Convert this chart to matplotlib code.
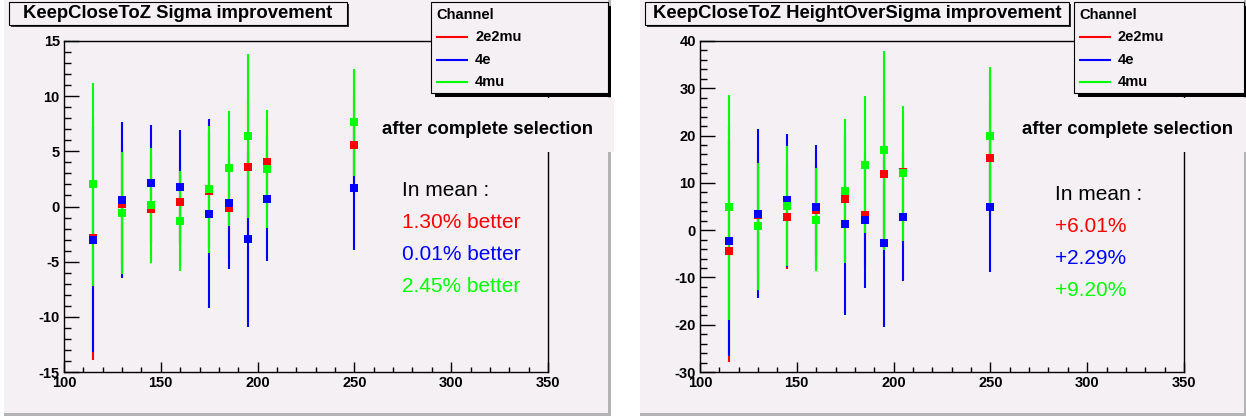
import numpy as np
import matplotlib
matplotlib.use("Agg")
import matplotlib.pyplot as plt
from matplotlib.patches import Rectangle
from matplotlib.lines import Line2D

plt.rcParams['font.family'] = ['Liberation Sans', 'DejaVu Sans']
plt.rcParams['axes.unicode_minus'] = False

# ---------------- data ----------------
masses = [115, 130, 145, 160, 175, 185, 195, 205, 250]
channels = ['2e2mu', '4e', '4mu']
colors = ['#ff0000', '#0000ff', '#00ff00']

sigma_2e2mu = [-2.9, 0.2, -0.2, 0.45, 1.45, -0.1, 3.6, 4.0, 5.6]
sigma_2e2mu_err = [11.0, 5.4, 4.6, 3.8, 5.25, 4.6, 6.0, 4.0, 4.5]
sigma_4e = [-3.0, 0.6, 2.1, 1.8, -0.65, 0.3, -2.95, 0.7, 1.67]
sigma_4e_err = [10.2, 7.05, 5.3, 5.1, 8.55, 5.95, 7.95, 5.65, 5.63]
sigma_4mu = [2.0, -0.6, 0.1, -1.3, 1.55, 3.45, 6.4, 3.4, 7.65]
sigma_4mu_err = [9.2, 5.5, 5.2, 4.55, 5.75, 5.25, 7.45, 5.35, 4.85]

hos_2e2mu = [-4.4, 3.1, 2.7, 4.3, 6.6, 3.3, 11.9, 12.35, 15.3]
hos_2e2mu_err = [23.4, 13.4, 10.9, 9.6, 13.15, 11.2, 16.0, 10.95, 12.3]
hos_4e = [-2.3, 3.5, 6.3, 4.95, 1.33, 2.25, -2.65, 2.85, 4.95]
hos_4e_err = [24.3, 17.8, 14.1, 13.05, 19.3, 14.45, 17.85, 13.65, 13.85]
hos_4mu = [4.8, 0.8, 5.1, 2.25, 8.3, 13.8, 16.9, 12.0, 19.9]
hos_4mu_err = [23.7, 13.5, 12.7, 10.9, 15.2, 14.5, 21.0, 14.2, 14.5]

sigma_mean = ['1.30% better', '0.01% better', '2.45% better']
hos_mean = ['+6.01%', '+2.29%', '+9.20%']

# ---------------- layout (pixels) ----------------
W, H = 1246, 417
BG = '#f4f0f4'
fig = plt.figure(figsize=(W / 100, H / 100), dpi=100)
fig.patch.set_facecolor('white')


def rect(x0, y0, x1, y1, **kw):
    # pixel box (top-left origin) -> figure rectangle
    r = Rectangle((x0 / W, 1 - y1 / H), (x1 - x0) / W, (y1 - y0) / H,
                  transform=fig.transFigure, **kw)
    fig.patches.append(r)
    return r


def text(x, y, s, **kw):
    fig.text(x / W, 1 - y / H, s, **kw)


def panel(off, title, title_x1, ylim, ymajor, yminor, series, mean_txt,
          mean_x, mean_y0, leg_x0, sel_x):
    # canvas
    rect(off + 4, 0, off + 611, 416, facecolor='#b4b4b4', edgecolor='none', zorder=-10)
    rect(off + 4, 0, off + 608, 413, facecolor=BG, edgecolor='none', zorder=-9)

    ax = fig.add_axes([(off + 64) / W, (H - 372) / H, 484 / W, 331 / H])
    ax.set_facecolor('none')
    for (y, e), c in zip(series, colors):
        ax.errorbar(masses, y, yerr=e, fmt='s', color=c, ms=6.3, mew=0,
                    elinewidth=1.5, capsize=1.3, capthick=2.5)
    ax.set_xlim(100, 350)
    ax.set_ylim(*ylim)
    ax.set_xticks(np.arange(100, 351, 50))
    ax.set_xticks(np.arange(100, 351, 10), minor=True)
    ax.set_yticks(np.arange(ylim[0], ylim[1] + 1, ymajor))
    ax.set_yticks(np.arange(ylim[0], ylim[1] + 0.1, yminor), minor=True)
    for s in ax.spines.values():
        s.set_linewidth(1.0)
    ax.tick_params(axis='y', which='major', direction='in', length=10.5, width=1, pad=3)
    ax.tick_params(axis='y', which='minor', direction='in', length=5, width=1)
    ax.tick_params(axis='x', which='major', direction='in', length=7, width=1, pad=3)
    ax.tick_params(axis='x', which='minor', direction='in', length=3.5, width=1)
    for lab in ax.get_xticklabels() + ax.get_yticklabels():
        lab.set_fontweight('bold')
        lab.set_fontsize(10.5)

    # title box
    rect(off + 11, 4, off + title_x1 + 2, 27, facecolor='#303030', edgecolor='none', zorder=4)
    rect(off + 9, 2, off + title_x1, 25, facecolor=BG, edgecolor='black', lw=0.8, zorder=5)
    text(off + (9 + title_x1) / 2, 14, title, ha='center', va='center',
         fontsize=13.3, fontweight='bold', zorder=6)

    # legend
    lx0 = off + leg_x0
    rect(lx0 + 4, 6, off + 611, 97, facecolor='black', edgecolor='none', zorder=4)
    rect(lx0, 2, off + 608, 93, facecolor=BG, edgecolor='black', lw=0.8, zorder=5)
    text(lx0 + 5, 15, 'Channel', ha='left', va='center', fontsize=10.5,
         fontweight='bold', zorder=6)
    for i, (name, c) in enumerate(zip(channels, colors)):
        yy = 37 + 22.5 * i
        fig.lines.append(Line2D([(lx0 + 6) / W, (lx0 + 36) / W],
                                [1 - yy / H, 1 - yy / H], color=c, lw=1.5,
                                transform=fig.transFigure, zorder=6))
        text(lx0 + 44, yy, name, ha='left', va='center', fontsize=10.5,
             fontweight='bold', zorder=6)

    # "after complete selection" pave
    rect(off + 372, 98, off + 614, 152, facecolor=BG, edgecolor='none', zorder=5)
    text(off + sel_x, 129, 'after complete selection', ha='center', va='center',
         fontsize=13.3, fontweight='bold', zorder=6)

    # mean improvement text
    tx = off + mean_x
    text(tx, mean_y0, 'In mean :', ha='left', va='center', fontsize=15, zorder=6)
    for i, (s, c) in enumerate(zip(mean_txt, colors)):
        text(tx, mean_y0 + 32 * (i + 1), s, ha='left', va='center',
             fontsize=15, color=c, zorder=6)
    return ax


panel(0, 'KeepCloseToZ Sigma improvement', 347, (-15, 15), 5, 1,
      [(sigma_2e2mu, sigma_2e2mu_err), (sigma_4e, sigma_4e_err), (sigma_4mu, sigma_4mu_err)],
      sigma_mean, 402, 190, 431, 488)
panel(636, 'KeepCloseToZ HeightOverSigma improvement', 433, (-30, 40), 10, 2,
      [(hos_2e2mu, hos_2e2mu_err), (hos_4e, hos_4e_err), (hos_4mu, hos_4mu_err)],
      hos_mean, 419, 195, 438, 492)

fig.savefig('out.png', dpi=100, facecolor='white')
